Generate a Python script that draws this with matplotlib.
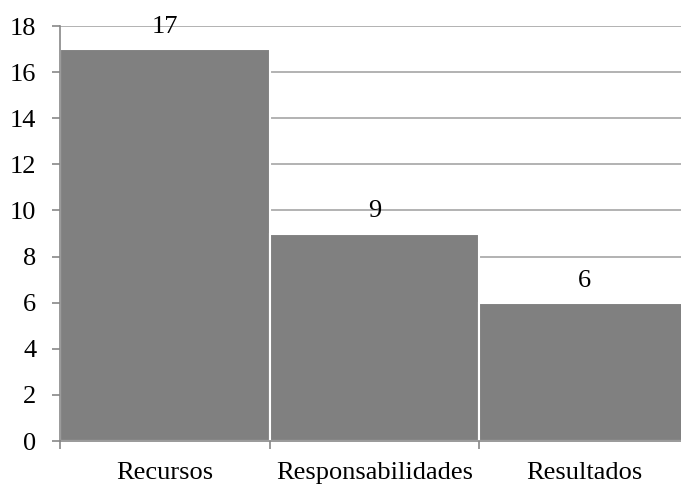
import matplotlib

matplotlib.use("Agg")
import matplotlib.pyplot as plt
import numpy as np

categories = ["Recursos", "Responsabilidades", "Resultados"]
values = [17, 9, 6]
y_ticks = [0, 2, 4, 6, 8, 10, 12, 14, 16, 18]

plt.rcParams["font.family"] = ["Liberation Serif", "DejaVu Serif"]

fig = plt.figure(figsize=(6.81, 4.86), dpi=100)
ax = fig.add_axes([60 / 681, 45 / 486, 629 / 681, 415 / 486])

x = np.arange(len(categories))
bars = ax.bar(x, values, width=1.0, color="#808080", edgecolor="white",
              linewidth=1.5, zorder=3)

for b, v in zip(bars, values):
    ax.annotate(str(v), (b.get_x() + b.get_width() / 2, v),
                xytext=(0, 8), textcoords="offset points",
                ha="center", va="bottom", fontsize=19, zorder=4)

ax.set_xlim(-0.5, len(categories) - 0.5)
ax.set_ylim(0, 18)
ax.set_yticks(y_ticks)
ax.yaxis.grid(True, color="#a6a6a6", linewidth=1.2, zorder=0)
ax.set_axisbelow(True)

ax.set_xticks(x)
ax.set_xticklabels(categories)
ax.set_xticks(np.arange(len(categories) + 1) - 0.5, minor=True)
ax.tick_params(axis="x", which="major", length=0, pad=15, labelsize=19)
ax.tick_params(axis="x", which="minor", length=6, width=1.2, color="#878787",
               direction="out")
ax.tick_params(axis="y", length=6, width=1.2, color="#878787", pad=11,
               labelsize=19)

for side in ("top", "right"):
    ax.spines[side].set_visible(False)
for side in ("left", "bottom"):
    ax.spines[side].set_color("#878787")
    ax.spines[side].set_linewidth(1.2)
    ax.spines[side].set_zorder(5)

fig.savefig("out.png", dpi=100)
